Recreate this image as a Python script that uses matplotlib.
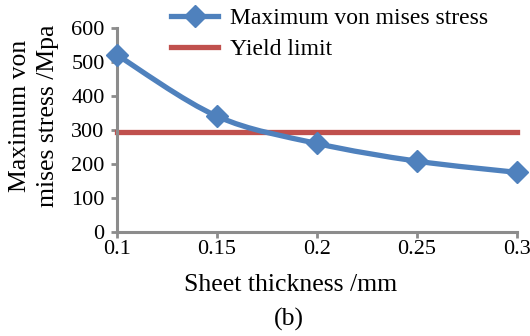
import numpy as np
import matplotlib.pyplot as plt
from matplotlib.path import Path
from matplotlib.patches import PathPatch
from matplotlib.lines import Line2D

plt.rcParams['font.family'] = ['Liberation Serif', 'DejaVu Serif']

# data
thickness = [0.1, 0.15, 0.2, 0.25, 0.3]
max_stress = [520, 340, 260, 208, 175]
yield_limit = [295, 295, 295, 295, 295]

blue = '#4F81BD'
red = '#C0504D'
grey = '#8C8C8C'

fig = plt.figure(figsize=(5.3, 3.36), dpi=100)
ax = fig.add_axes([0.221, 0.31, 0.754, 0.607])

# smoothed line like excel (cubic bezier through the points)
x = np.array(thickness)
y = np.array(max_stress, dtype=float)
verts = [(x[0], y[0])]
codes = [Path.MOVETO]
for i in range(len(x) - 1):
    x0, y0 = (x[i - 1], y[i - 1]) if i > 0 else (x[i], y[i])
    x3, y3 = (x[i + 2], y[i + 2]) if i + 2 < len(x) else (x[i + 1], y[i + 1])
    c1 = (x[i] + (x[i + 1] - x0) / 6, y[i] + (y[i + 1] - y0) / 6)
    c2 = (x[i + 1] - (x3 - x[i]) / 6, y[i + 1] - (y3 - y[i]) / 6)
    verts += [c1, c2, (x[i + 1], y[i + 1])]
    codes += [Path.CURVE4] * 3
ax.add_patch(PathPatch(Path(verts, codes), fill=False, edgecolor=blue, lw=3.8,
                       capstyle='round', joinstyle='round', zorder=3, clip_on=False))
ax.plot(thickness, max_stress, ls='none', marker='D', ms=11, color=blue, zorder=4, clip_on=False)
ax.plot(thickness, yield_limit, color=red, lw=3.8, zorder=2, clip_on=False)

ax.set_xlim(0.1, 0.3)
ax.set_ylim(0, 600)
ax.set_xticks([0.1, 0.15, 0.2, 0.25, 0.3])
ax.set_xticklabels(['0.1', '0.15', '0.2', '0.25', '0.3'])
ax.set_yticks(range(0, 601, 100))

for s in ['top', 'right']:
    ax.spines[s].set_visible(False)
for s in ['left', 'bottom']:
    ax.spines[s].set_color(grey)
    ax.spines[s].set_linewidth(2.2)
ax.tick_params(axis='both', colors=grey, width=2, length=4, labelsize=16, labelcolor='black')
ax.tick_params(axis='y', pad=5)
ax.tick_params(axis='x', pad=2)

fig.text(0.549, 0.152, 'Sheet thickness /mm', ha='center', va='center', fontsize=18.5)
fig.text(0.065, 0.655, 'Maximum von\nmises stress /Mpa', ha='center', va='center',
         rotation=90, fontsize=18.5, linespacing=1.35)

handles = [Line2D([], [], color=blue, lw=3.8, marker='D', ms=11),
           Line2D([], [], color=red, lw=3.8)]
fig.legend(handles, ['Maximum von mises stress', 'Yield limit'],
           loc='upper left', bbox_to_anchor=(0.283, 1.04), frameon=False,
           fontsize=17, handlelength=2.0, handletextpad=0.5, labelspacing=0.4)

fig.text(0.545, 0.03, '(b)', ha='center', fontsize=18.5)

fig.savefig('out.png', dpi=100)
